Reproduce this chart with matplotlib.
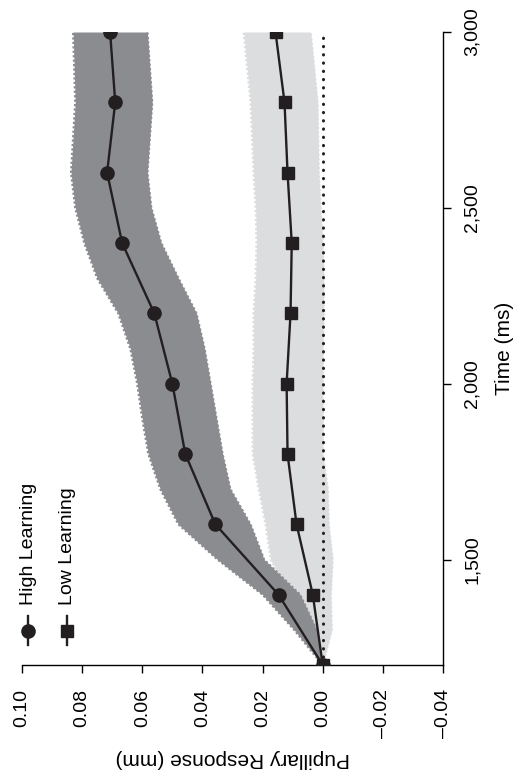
import matplotlib.pyplot as plt
from matplotlib import font_manager

# condensed sans if it is around, otherwise the regular one
names = {f.name for f in font_manager.fontManager.ttflist}
font = 'Liberation Sans Narrow' if 'Liberation Sans Narrow' in names else 'Liberation Sans'
plt.rcParams['font.family'] = [font, 'DejaVu Sans']

# mean pupillary response (mm) every 200 ms
time = [1200, 1400, 1600, 1800, 2000, 2200, 2400, 2600, 2800, 3000]
high = [0.0, 0.0147, 0.0357, 0.0457, 0.0500, 0.0560, 0.0667, 0.0717, 0.0690, 0.0707]
low = [0.0, 0.0033, 0.0087, 0.0117, 0.0120, 0.0107, 0.0103, 0.0117, 0.0127, 0.0157]

# shaded error bands
band_time = [1200, 1300, 1400, 1500, 1600, 1700, 1800, 1900, 2000, 2100, 2200, 2300, 2400,
             2500, 2600, 2800, 3000]
high_upper = [0.0, 0.0095, 0.0200, 0.0350, 0.0480, 0.0540, 0.0580, 0.0600, 0.0617, 0.0640,
              0.0680, 0.0750, 0.0793, 0.0823, 0.0837, 0.0823, 0.0830]
high_lower = [0.0, 0.0020, 0.0075, 0.0195, 0.0240, 0.0307, 0.0333, 0.0353, 0.0373, 0.0393,
              0.0420, 0.0480, 0.0537, 0.0570, 0.0583, 0.0567, 0.0583]
low_upper = [0.0, 0.0060, 0.0110, 0.0173, 0.0190, 0.0213, 0.0233, 0.0233, 0.0233, 0.0230,
             0.0230, 0.0223, 0.0220, 0.0223, 0.0230, 0.0240, 0.0263]
low_lower = [0.0, -0.0030, -0.0027, -0.0033, -0.0020, -0.0017, 0.0, 0.0, 0.0, 0.0,
             -0.0003, -0.0003, 0.0, 0.0007, 0.0013, 0.0017, 0.0040]

x_ticks = [0.10, 0.08, 0.06, 0.04, 0.02, 0.00, -0.02, -0.04]
x_labels = ['0.10', '0.08', '0.06', '0.04', '0.02', '0.00', '\u20130.02', '\u20130.04']
y_ticks = [1500, 2000, 2500, 3000]
y_labels = ['1,500', '2,000', '2,500', '3,000']

dark = '#8b8c8f'
light = '#dcdddf'
ink = '#231f20'

fig = plt.figure(figsize=(5.24, 7.82), dpi=100)
ax = fig.add_axes([22 / 524, 117 / 782, 421 / 524, 633 / 782])

# bands, with a fine dotted rim for the ragged edge
ax.fill_betweenx(band_time, low_lower, low_upper, color=light, lw=0, zorder=1)
for edge in (low_lower, low_upper):
    ax.plot(edge, band_time, color=light, ls=(0, (1, 1)), lw=1.6, zorder=1)
ax.axvline(0, color=ink, ls=(0, (0.1, 2.6)), lw=2.2, dash_capstyle='round', zorder=2)
ax.fill_betweenx(band_time, high_lower, high_upper, color=dark, lw=0, zorder=3)
for edge in (high_lower, high_upper):
    ax.plot(edge, band_time, color=dark, ls=(0, (1, 1)), lw=1.6, zorder=3)

ax.plot(low, time, color=ink, lw=1.7, marker='s', ms=9, zorder=5)
ax.plot(high, time, color=ink, lw=1.7, marker='o', ms=9.5, zorder=6)

ax.set_xlim(0.10, -0.04)
ax.set_ylim(1200, 3000)
ax.spines['left'].set_visible(False)
ax.spines['top'].set_visible(False)
ax.spines['bottom'].set_linewidth(1.0)
ax.spines['right'].set_linewidth(1.0)

ax.set_xticks(x_ticks)
ax.set_xticklabels(x_labels, rotation=90, fontsize=14)
ax.yaxis.tick_right()
ax.set_yticks(y_ticks)
ax.set_yticklabels(y_labels, rotation=90, fontsize=14, va='center')
ax.tick_params(axis='x', length=6, width=1.0, pad=11)
ax.tick_params(axis='y', length=6, width=1.0, pad=9)

ax.set_xlabel('Pupillary Response (mm)', rotation=180, fontsize=15, labelpad=8)
ax.yaxis.set_label_position('right')
ax.set_ylabel('Time (ms)', rotation=90, fontsize=15, labelpad=10)

# legend, drawn sideways like the rest
for x, marker, ms, label in [(0.0143, 'o', 9.5, 'High Learning'), (0.107, 's', 9, 'Low Learning')]:
    ax.plot([x, x], [0.0316, 0.0774], color=ink, lw=1.7, transform=ax.transAxes, clip_on=False)
    ax.plot([x], [0.0537], color=ink, marker=marker, ms=ms, transform=ax.transAxes, clip_on=False)
    ax.text(x, 0.0948, label, rotation=90, ha='center', va='bottom', fontsize=14,
            transform=ax.transAxes)

fig.savefig('out.png', dpi=100)
